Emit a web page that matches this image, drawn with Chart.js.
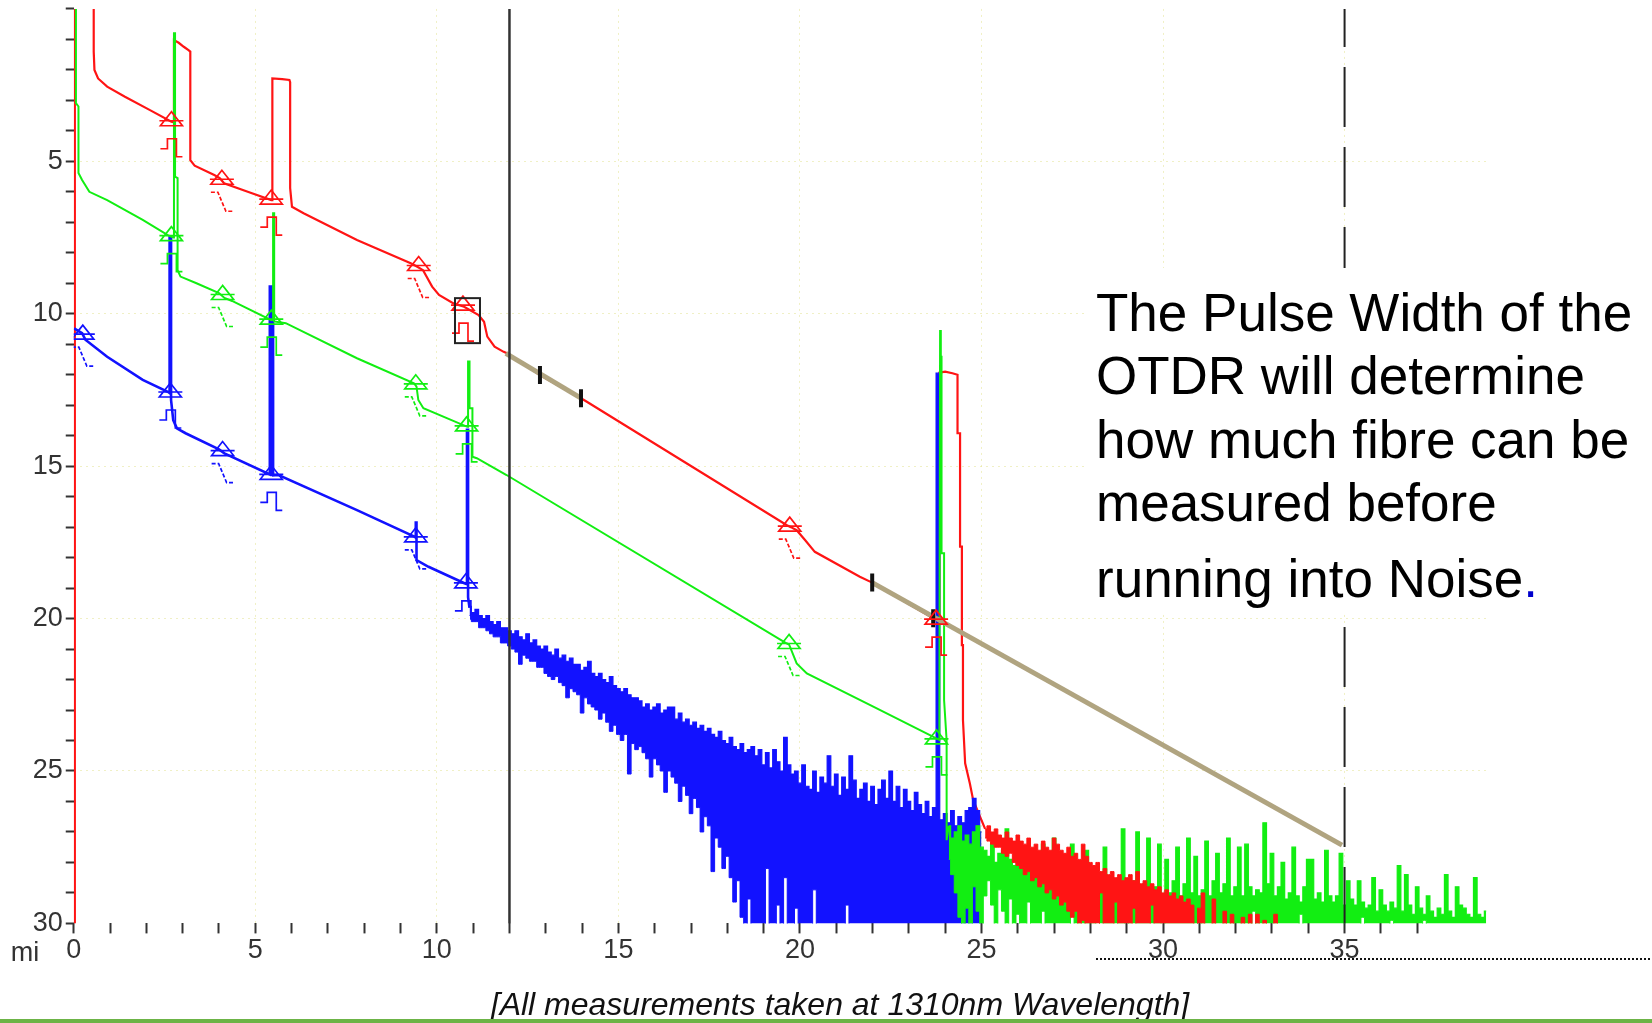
<!DOCTYPE html>
<html><head><meta charset="utf-8">
<script src="https://cdn.jsdelivr.net/npm/chart.js@4.4.1/dist/chart.umd.min.js"></script>
<style>html,body{margin:0;padding:0;background:#fff;overflow:hidden}canvas{display:block}</style>
</head><body>
<canvas id="c" width="1652" height="1023" style="width:1652px;height:1023px"></canvas>
<script>
// ---------------- DATA (miles, dB-like units; y axis reversed) ----------------
const redTrace = [[0.03,30],[0.03,-1],[0.55,-1],[0.55,1.40],[0.57,2.00],[0.67,2.28],[0.92,2.55],[1.41,2.88],[2.10,3.32],[2.69,3.70],[2.76,3.72],[2.76,1.02],[2.89,1.11],[3.03,1.24],[3.16,1.35],[3.21,1.40],[3.21,4.96],[3.33,5.14],[3.87,5.45],[4.02,5.55],[4.14,5.72],[4.85,6.02],[5.44,6.27],[5.47,6.27],[5.47,2.28],[5.74,2.30],[5.94,2.33],[5.96,2.40],[5.96,5.88],[6.01,6.49],[6.33,6.70],[7.80,7.58],[9.28,8.34],[9.45,8.45],[9.62,8.57],[9.87,9.11],[10.06,9.38],[10.46,9.66],[10.75,9.77],[11.15,10.04],[11.30,10.26],[11.39,10.75],[11.59,11.08],[11.84,11.25],[11.95,11.30],[12.84,12.01],[13.97,12.77],[14.12,12.88],[19.63,16.93],[19.75,17.00],[19.91,17.10],[20.14,17.42],[20.41,17.81],[21.65,18.63],[21.99,18.82],[23.67,19.99],[23.84,20.10],[23.84,11.93],[24.00,11.90],[24.20,11.95],[24.34,12.00],[24.34,13.92],[24.41,13.92],[24.41,17.64],[24.46,17.64],[24.46,20.87],[24.49,20.87],[24.49,23.33],[24.55,24.75],[24.68,25.41],[24.77,25.95],[24.96,26.50],[25.10,26.90]];
const greenTrace = [[0.06,-1],[0.06,3.09],[0.13,3.20],[0.13,5.38],[0.23,5.61],[0.43,6.00],[0.92,6.27],[1.90,6.92],[2.59,7.42],[2.74,7.50],[2.76,0.80],[2.79,0.80],[2.79,5.50],[2.86,5.55],[2.86,8.57],[2.94,8.78],[3.38,9.00],[4.00,9.32],[4.15,9.48],[4.36,9.58],[5.44,10.21],[5.49,10.20],[5.49,6.70],[5.52,6.70],[5.52,10.25],[5.84,10.31],[7.80,11.46],[9.37,12.28],[9.44,12.39],[9.49,12.83],[9.63,13.10],[10.84,13.71],[10.86,13.71],[10.86,11.57],[10.90,11.57],[10.90,13.10],[10.98,13.10],[10.98,14.69],[11.10,14.74],[11.92,15.29],[19.63,20.81],[19.70,20.85],[19.91,21.47],[20.19,21.80],[22.02,22.89],[23.58,23.82],[23.84,23.98],[23.86,10.53],[23.88,10.53],[23.88,11.41],[23.90,11.41],[23.90,17.86],[23.97,17.86],[23.97,22.67],[24.04,24.00],[24.04,27.27],[24.10,26.80]];
const blueTrace = [[0.01,10.48],[0.23,10.64],[0.32,10.85],[0.92,11.41],[1.90,12.17],[2.62,12.58],[2.64,12.60],[2.64,7.50],[2.68,7.50],[2.68,12.83],[2.74,13.49],[2.84,13.76],[3.08,13.92],[4.00,14.45],[4.15,14.58],[5.40,15.27],[5.40,9.11],[5.43,9.11],[5.43,15.28],[5.46,15.28],[5.46,9.11],[5.49,9.11],[5.49,15.30],[5.64,15.29],[7.80,16.44],[9.38,17.31],[9.42,17.35],[9.42,16.85],[9.44,16.85],[9.44,18.08],[9.77,18.30],[10.76,18.84],[10.83,18.87],[10.83,13.81],[10.86,13.81],[10.86,19.30],[10.90,19.65]];

// noise sections: sampled every noiseStep miles from their start
const noiseStep = 0.1;
const blueNoiseStart = 10.9;
const blueNoiseTop = [
 19.6,19.8,19.7,19.9,20.0,19.9,20.1,20.2,20.1,20.3,
 20.3,20.4,20.5,20.4,20.6,20.7,20.5,20.8,20.7,20.9,
 21.0,20.9,21.1,21.2,21.0,21.3,21.2,21.4,21.3,21.5,
 21.5,21.7,21.6,21.4,21.8,21.9,21.8,22.0,22.1,21.9,
 22.2,22.3,22.4,22.3,22.5,22.6,22.6,22.7,22.9,22.8,
 23.0,22.9,22.8,23.1,23.0,22.9,22.9,23.3,23.1,23.4,
 23.3,23.5,23.4,23.6,23.5,23.7,23.6,23.8,23.9,23.7,
 24.0,24.1,23.9,24.2,24.3,24.1,24.4,24.3,24.2,24.5,
 24.3,24.8,24.4,24.9,24.3,24.7,25.0,23.9,24.8,25.1,
 25.0,25.4,24.8,25.5,25.6,25.0,25.7,25.2,25.4,24.5,
 25.5,25.1,25.8,25.2,25.6,24.5,25.3,25.9,25.6,25.4,
 26.0,25.5,26.1,25.6,25.3,25.9,25.0,26.0,25.5,26.2,
 25.6,26.0,26.3,25.7,26.1,26.4,26.0,26.5,26.2,11.95,
 26.6,26.4,26.7,26.3,26.8,26.5,26.7,26.3,26.2,25.9,
 26.3,27.0];
const blueNoiseBottom = [
 19.9,20.1,20.1,20.3,20.3,20.4,20.5,20.6,20.6,20.8,
 20.8,20.9,21.0,21.1,21.5,21.2,21.3,21.4,21.4,21.6,
 21.6,21.8,21.9,22.0,21.9,22.1,22.2,22.6,22.3,22.4,
 22.5,23.1,22.6,22.8,22.9,23.0,23.3,23.1,23.4,23.7,
 23.5,23.8,24.0,23.8,25.1,24.1,24.3,24.2,24.4,24.6,
 25.2,24.6,24.8,25.0,25.7,25.0,25.2,25.4,26.0,25.5,
 25.8,26.4,25.9,26.2,27.0,26.5,26.8,28.3,27.2,27.5,
 28.2,27.8,28.5,29.3,28.6,29.8,30.1,29.2,30.1,30.1,
 30.1,30.1,28.2,30.1,30.1,29.4,30.1,28.5,30.1,30.1,
 29.5,30.1,30.1,30.1,30.1,28.9,30.1,30.1,30.1,30.1,
 30.1,30.1,30.1,30.1,29.4,30.1,30.1,30.1,30.1,30.1,
 30.1,30.1,30.1,30.1,30.1,30.1,30.1,30.1,30.1,30.1,
 30.1,30.1,30.1,30.1,30.1,30.1,30.1,30.1,30.1,30.1,
 30.1,30.1,30.1,30.1,30.1,30.1,30.1,30.1,30.1,30.1,
 30.1,30.1];
const redNoiseStart = 25.1;
const redNoiseTop = [
 26.9,26.8,27.0,26.9,27.1,27.2,27.0,27.2,27.3,27.1,
 27.3,27.4,27.2,27.5,27.4,27.6,27.3,27.5,27.6,27.2,
 27.4,27.6,27.7,27.5,27.8,27.7,27.9,27.4,27.8,28.0,
 28.1,28.0,28.3,28.2,28.4,28.3,28.5,28.4,28.6,28.5,
 28.4,28.6,28.3,28.7,28.6,28.8,28.7,28.9,28.8,29.0,
 28.9,29.1,29.0,29.2,29.1,29.3,29.2,29.4,30.1,29.5,
 29.0,30.1,30.1,29.2,30.1,30.1,29.6,30.1,29.7,30.1,
 30.1,29.8,30.1,29.7,30.1,29.7,30.1,29.9,30.1,30.1,
 29.7,30.1];
const redNoiseBottom = [
 27.2,27.3,27.4,27.5,27.5,27.7,27.8,27.7,28.0,28.1,
 28.2,28.4,28.3,28.6,28.5,28.8,28.7,29.0,28.9,29.2,
 29.1,29.4,29.3,29.6,29.8,29.6,30.1,29.9,30.1,30.1,
 30.1,30.1,29.0,30.1,30.1,30.1,29.3,30.1,30.1,30.1,
 30.1,29.5,30.1,30.1,30.1,30.1,29.4,30.1,30.1,30.1,
 30.1,30.1,30.1,30.1,30.1,30.1,30.1,30.1,30.1,30.1,
 30.1,30.1,30.1,30.1,30.1,30.1,30.1,30.1,30.1,30.1,
 30.1,30.1,30.1,30.1,30.1,30.1,30.1,30.1,30.1,30.1,
 30.1,30.1];
const greenNoiseStart = 24.1;
const greenNoiseTop = [
 26.8,27.2,27.0,26.8,27.3,27.1,27.4,27.0,26.8,27.5,
 27.6,27.8,27.4,28.0,27.7,27.6,26.9,27.9,28.1,27.8,
 27.9,28.2,27.7,28.3,27.9,28.4,27.4,28.2,28.5,27.2,
 28.4,28.6,28.3,28.7,27.4,28.5,28.8,28.4,27.6,28.6,
 28.9,29.1,28.6,27.5,29.0,28.7,29.1,28.5,26.9,28.9,
 29.0,28.6,27.0,29.1,28.7,27.2,29.0,28.8,27.4,29.1,
 27.9,29.0,28.6,27.5,29.1,28.7,27.2,29.0,27.8,29.1,
 28.9,27.3,29.1,28.6,27.7,29.0,28.7,27.2,29.1,28.8,
 27.5,29.1,27.4,28.8,29.1,28.9,29.0,26.7,28.7,27.7,
 29.1,28.8,28.0,29.2,29.0,27.5,29.1,29.3,28.8,27.9,
 27.9,29.2,29.0,29.3,27.6,29.1,29.3,29.1,27.7,29.4,
 28.6,29.2,29.4,28.6,29.3,29.5,29.4,28.5,29.6,28.9,
 29.4,29.6,29.3,29.5,28.1,29.6,28.4,29.4,29.7,28.8,
 29.5,29.7,29.1,29.6,29.8,29.5,29.7,28.4,29.6,29.8,
 28.8,29.4,29.5,29.7,29.8,28.5,29.7,29.8,29.6];
const greenNoiseBottom = [
 27.9,28.4,29.0,29.8,30.1,29.5,30.1,28.8,29.6,30.1,
 29.1,28.6,29.4,30.1,28.9,29.6,30.1,29.2,30.1,29.7,
 30.1,30.1,29.3,30.1,30.1,30.1,29.6,30.1,30.1,30.1,
 30.1,30.1,30.1,30.1,29.5,30.1,30.1,30.1,30.1,30.1,
 30.1,29.6,30.1,30.1,30.1,30.1,30.1,30.1,30.1,29.4,
 30.1,30.1,30.1,30.1,30.1,30.1,30.1,30.1,30.1,29.8,
 30.1,30.1,30.1,30.1,30.1,30.1,30.1,30.1,30.1,29.5,
 30.1,30.1,30.1,30.1,30.1,30.1,30.1,30.1,30.1,30.1,
 30.1,30.1,30.1,30.1,29.6,30.1,30.1,30.1,30.1,30.1,
 30.1,30.1,30.1,30.1,30.1,30.1,30.1,29.7,30.1,30.1,
 30.1,30.1,30.1,30.1,30.1,30.1,30.1,30.1,30.1,30.1,
 30.1,30.1,30.1,30.1,29.8,30.1,30.1,30.1,30.1,30.1,
 30.1,30.1,29.9,30.1,30.1,30.1,30.1,30.1,30.1,30.1,
 30.1,29.9,30.1,30.1,30.1,30.1,30.1,30.1,30.1,30.1,
 30.1,30.1,30.1,30.1,30.1,30.1,30.1,30.1,30.1];

const tanFitA = [[11.90,11.30],[13.97,12.77]];
const tanFitB = [[21.99,18.82],[34.93,27.43]];
const tanMarks = [[12.84,12.01],[13.97,12.77],[21.99,18.82],[23.67,19.99]];
const cursorLine = [[12,0],[12,30]];
const endLine = [[35,0],[35,30]];

// events: [mile, level, kind]  R = reflective, N = non-reflective, B = boxed reflective
const redEvents = [[2.69,3.70,'R'],[4.08,5.62,'N'],[5.44,6.27,'R'],[9.50,8.45,'N'],[10.72,9.75,'B'],[19.72,17.00,'N'],[23.75,20.05,'R']];
const greenEvents = [[2.69,7.47,'R'],[4.10,9.40,'N'],[5.44,10.21,'R'],[9.42,12.33,'N'],[10.82,13.71,'R'],[19.70,20.85,'N'],[23.76,23.98,'R']];
const blueEvents = [[0.25,10.70,'N'],[2.66,12.60,'R'],[4.10,14.52,'N'],[5.44,15.30,'R'],[9.42,17.35,'N'],[10.80,18.86,'R']];

const noteLines = ['The Pulse Width of the','OTDR will determine','how much fibre can be','measured before','running into Noise'];
const caption = '[All measurements taken at 1310nm Wavelength]';
const xUnit = 'mi';

// ---------------- CHART ----------------
const RED = '#ff1414', GREEN = '#12ee12', BLUE = '#1212ff', TAN = '#b0a480';
const pts = a => a.map(p => ({x: p[0], y: p[1]}));
const sampled = (start, vals) => vals.map((v, i) => ({x: Math.round((start + i * noiseStep) * 100) / 100, y: v}));

function glyph(ctx, px, py, kind, color) {
  ctx.strokeStyle = color; ctx.lineWidth = 1.7; ctx.setLineDash([]);
  ctx.beginPath();
  ctx.moveTo(px, py - 10); ctx.lineTo(px - 11, py + 4); ctx.lineTo(px + 11, py + 4); ctx.closePath();
  ctx.moveTo(px - 12, py - 1); ctx.lineTo(px + 12, py - 1);
  ctx.stroke();
  ctx.beginPath();
  if (kind === 'N') {
    ctx.setLineDash([4, 2]);
    ctx.moveTo(px - 11, py + 12); ctx.lineTo(px - 4, py + 12); ctx.lineTo(px + 4, py + 31); ctx.lineTo(px + 11, py + 31);
  } else {
    ctx.moveTo(px - 11, py + 27); ctx.lineTo(px - 4, py + 27); ctx.lineTo(px - 4, py + 17);
    ctx.lineTo(px + 5, py + 17); ctx.lineTo(px + 5, py + 35); ctx.lineTo(px + 11, py + 35);
  }
  ctx.stroke(); ctx.setLineDash([]);
  if (kind === 'B') { ctx.strokeStyle = '#222'; ctx.lineWidth = 2; ctx.strokeRect(px - 8, py - 8, 25, 45); }
}

const eventPlugin = {
  id: 'eventGlyphs',
  afterDatasetsDraw(chart) {
    const {ctx, chartArea: a} = chart; const xs = chart.scales.x, ys = chart.scales.y;
    ctx.save();
    ctx.beginPath(); ctx.rect(a.left, a.top, a.right - a.left, a.bottom - a.top); ctx.clip();
    [[redEvents, RED], [greenEvents, GREEN], [blueEvents, BLUE]].forEach(([evs, col]) => {
      evs.forEach(e => glyph(ctx, xs.getPixelForValue(e[0]), ys.getPixelForValue(e[1]), e[2], col));
    });
    ctx.restore();
  }
};

const overlayPlugin = {
  id: 'overlay',
  afterDraw(chart) {
    const ctx = chart.ctx;
    ctx.save();
    ctx.fillStyle = '#fff'; ctx.fillRect(1085, 268, 567, 344);
    ctx.fillStyle = '#000'; ctx.font = '53px "Liberation Sans", Arial, sans-serif';
    ctx.textBaseline = 'alphabetic'; ctx.textAlign = 'left';
    const bases = [331, 394, 458, 521, 597];
    noteLines.forEach((t, i) => ctx.fillText(t, 1096, bases[i]));
    const w = ctx.measureText(noteLines[4]).width;
    ctx.fillStyle = '#0000cc'; ctx.fillText('.', 1096 + w, bases[4]);
    ctx.fillStyle = '#333'; ctx.font = '27px "Liberation Sans", Arial, sans-serif'; ctx.textAlign = 'center';
    ctx.fillText(xUnit, 25, 961);
    ctx.strokeStyle = '#111'; ctx.lineWidth = 2; ctx.setLineDash([2, 2]);
    ctx.beginPath(); ctx.moveTo(1096, 959); ctx.lineTo(1652, 959); ctx.stroke(); ctx.setLineDash([]);
    ctx.fillStyle = '#111'; ctx.font = 'italic 32px "Liberation Sans", Arial, sans-serif'; ctx.textAlign = 'center';
    ctx.fillText(caption, 840, 1015);
    ctx.fillStyle = '#6cb446'; ctx.fillRect(0, 1019, 1652, 4);
    ctx.restore();
  }
};

Chart.defaults.font.family = '"Liberation Sans", Arial, sans-serif';
const gridCol = 'rgba(228,228,150,0.55)';

new Chart(document.getElementById('c'), {
  type: 'line',
  data: {
    datasets: [
      {data: sampled(redNoiseStart, redNoiseTop), borderColor: RED, backgroundColor: RED, borderWidth: 1, stepped: 'middle', fill: '+1', order: 4},
      {data: sampled(redNoiseStart, redNoiseBottom), borderColor: RED, borderWidth: 1, stepped: 'middle', fill: false, order: 4},
      {data: pts(redTrace), borderColor: RED, borderWidth: 2.2, fill: false, order: 9},
      {data: sampled(blueNoiseStart, blueNoiseTop), borderColor: BLUE, backgroundColor: BLUE, borderWidth: 1.2, stepped: 'middle', fill: '+1', order: 8},
      {data: sampled(blueNoiseStart, blueNoiseBottom), borderColor: BLUE, borderWidth: 1, stepped: 'middle', fill: false, order: 8},
      {data: pts(blueTrace), borderColor: BLUE, borderWidth: 2.6, fill: false, order: 7},
      {data: sampled(greenNoiseStart, greenNoiseTop), borderColor: GREEN, backgroundColor: GREEN, borderWidth: 1.2, stepped: 'middle', fill: '+1', order: 6},
      {data: sampled(greenNoiseStart, greenNoiseBottom), borderColor: GREEN, borderWidth: 1, stepped: 'middle', fill: false, order: 6},
      {data: pts(greenTrace), borderColor: GREEN, borderWidth: 2, fill: false, order: 5},
      {data: pts(tanFitA), borderColor: TAN, borderWidth: 5, fill: false, order: 3},
      {data: pts(tanFitB), borderColor: TAN, borderWidth: 5, fill: false, order: 3},
      {data: pts(tanMarks), showLine: false, pointStyle: 'line', rotation: 90, pointRadius: 9, pointBorderWidth: 4, pointBorderColor: '#111', order: 2},
      {data: pts(cursorLine), borderColor: '#333', borderWidth: 2.5, fill: false, order: 2},
      {data: pts(endLine), borderColor: '#222', borderWidth: 2, borderDash: [60, 20], borderDashOffset: 22, fill: false, order: 2}
    ]
  },
  options: {
    responsive: false, devicePixelRatio: 1, animation: false,
    layout: {autoPadding: false, padding: {left: 0, top: 8.95, right: 164, bottom: 0}},
    elements: {point: {radius: 0, hoverRadius: 0}, line: {tension: 0}},
    plugins: {legend: {display: false}, tooltip: {enabled: false}},
    events: [],
    scales: {
      x: {
        type: 'linear', min: 0, max: 38.95,
        afterFit: s => { s.height = 99.6; s.paddingLeft = 0; s.paddingRight = 0; },
        afterBuildTicks: s => { s.ticks = s.ticks.filter(t => Number.isInteger(t.value)); },
        ticks: {stepSize: 1, maxTicksLimit: 100, autoSkip: false, maxRotation: 0, padding: 1, color: '#333', font: {size: 27},
          callback: v => (v % 5 === 0 && v <= 35) ? String(v) : ''},
        grid: {color: c => (c.tick && c.tick.value % 5 === 0 && c.tick.value > 0) ? gridCol : 'rgba(0,0,0,0)',
          tickColor: '#333', tickLength: 10, tickWidth: 2, lineWidth: 1},
        border: {display: false, dash: [2, 4]}
      },
      y: {
        type: 'linear', reverse: true, min: 0, max: 30,
        afterFit: s => { s.width = 73.75; s.paddingTop = 0; s.paddingBottom = 0; },
        ticks: {stepSize: 1, maxTicksLimit: 100, autoSkip: false, padding: 3, color: '#333', font: {size: 27},
          callback: v => (v % 5 === 0 && v > 0) ? String(v) : ''},
        grid: {color: c => (c.tick && c.tick.value % 5 === 0 && c.tick.value > 0 && c.tick.value < 30) ? gridCol : 'rgba(0,0,0,0)',
          tickColor: '#333', tickLength: 8, tickWidth: 2, lineWidth: 1},
        border: {display: false, dash: [2, 4]}
      }
    }
  },
  plugins: [eventPlugin, overlayPlugin]
});
</script>
</body></html>
